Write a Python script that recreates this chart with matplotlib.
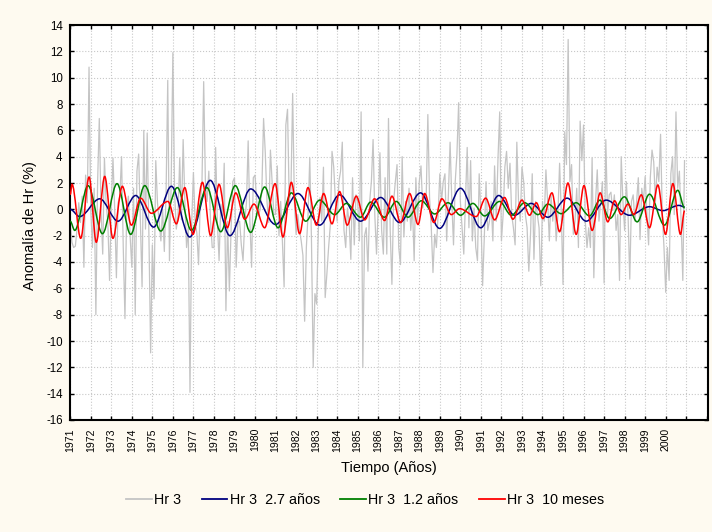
import numpy as np
import matplotlib
matplotlib.use("Agg")
import matplotlib.pyplot as plt
from matplotlib.path import Path
from matplotlib.patches import PathPatch
from matplotlib.lines import Line2D

plt.rcParams['font.family'] = ['Liberation Sans', 'DejaVu Sans']
plt.rcParams['axes.unicode_minus'] = False

# monthly anomaly of Hr, Jan 1971 - Dec 2000
hr3 = [
    -1.0, -2.5, -2.9, -2.8, -1.5, 0.5, -1.0, 1.0, -4.4, 2.6, 0.5, 10.8,      # 1971
    0.0, -2.9, 1.6, -8.0, 2.0, 6.9, 0.0, -3.4, 3.9, 0.5, -1.0, -5.4,         # 1972
    0.5, 3.9, 0.0, -5.2, 0.5, 1.0, 4.0, -2.9, -8.3, 0.0, 1.0, -2.0,          # 1973
    -4.4, 1.6, -8.0, 2.9, 4.2, -1.0, -5.9, 6.0, -1.5, 5.8, -2.0, -10.9,      # 1974
    -2.7, -6.8, 3.7, 0.5, -1.0, -2.4, 0.0, -3.2, 1.0, 9.8, -3.9, 2.0,        # 1975
    11.9, 1.2, -1.5, -0.5, 3.9, -0.8, 5.3, 0.6, -2.9, -1.4, -13.9, -1.0,     # 1976
    2.8, -0.9, -1.8, -4.2, 0.6, 2.0, 9.7, 2.1, 0.6, 2.9, -0.9, -2.9,         # 1977
    -2.9, 4.7, -1.0, -3.9, 0.4, -0.5, 3.5, -7.7, -0.9, -6.2, -1.6, 2.1,      # 1978
    2.4, -4.4, -1.0, -0.9, -2.7, -3.9, -0.9, 0.5, 5.2, -0.9, -4.4, 2.4,      # 1979
    2.6, 0.6, -0.5, 0.0, 1.5, 6.9, 4.3, 0.6, -1.0, 4.5, 2.1, -0.4,           # 1980
    -0.4, 3.3, -2.0, 0.6, -2.4, -5.9, 6.4, 7.6, 0.6, 1.5, 8.8, 0.6,          # 1981
    -1.9, -0.4, -1.6, -2.4, -3.5, -8.5, -2.9, -0.4, 3.9, -2.4, -12.0, -6.4,  # 1982
    -7.2, -1.6, 0.9, -0.9, 3.2, -6.7, -4.9, -2.9, -1.2, 4.4, 3.2, 0.6,       # 1983
    -0.9, 2.1, 2.9, 5.1, -1.6, -2.9, 0.1, -1.0, -3.8, 2.4, -2.7, 1.1,        # 1984
    0.6, -2.4, 7.4, -12.0, -2.0, -1.4, -4.7, 0.6, 2.1, 5.3, -0.4, -3.4,      # 1985
    0.1, 4.3, -1.6, -3.4, 2.4, -3.4, 6.9, -1.6, -5.7, 0.6, 2.1, 3.4,         # 1986
    -2.9, -4.2, 4.0, -2.1, 0.6, -0.9, 1.6, -1.6, 0.3, -3.9, 2.4, -0.9,       # 1987
    2.1, 3.3, 0.1, 1.1, 0.6, 7.2, 0.9, -1.4, -4.8, -1.9, -2.9, -0.4,         # 1988
    2.7, 0.6, 2.1, 2.7, -2.4, 1.1, 5.1, 0.6, -2.7, 2.1, 4.2, 8.1,            # 1989
    0.6, -1.4, -3.4, 0.6, 4.7, -1.4, 3.7, -2.4, 0.1, -2.9, -3.9, 2.7,        # 1990
    -0.4, -5.8, -2.1, 2.1, -1.6, -0.9, 0.6, -2.4, 3.3, -0.9, 3.9, 7.4,       # 1991
    -2.4, -0.4, 3.2, 4.4, 1.6, 3.5, -0.4, -1.4, -2.7, 5.1, 0.6, -0.9,        # 1992
    3.2, 2.1, -0.4, -1.4, -4.7, -1.9, 2.7, -3.8, 0.6, -0.4, -1.4, -5.8,      # 1993
    0.6, -0.9, 3.0, 0.6, -2.4, 1.1, -0.9, 0.6, -2.4, -0.4, 3.5, -0.4,        # 1994
    -5.7, 5.9, 3.4, 12.9, 2.1, 3.4, -1.9, -0.9, 1.6, -2.9, 6.7, 3.7,         # 1995
    6.4, -0.9, -2.9, -1.4, -2.9, 3.9, -5.2, 0.6, 3.0, -0.9, 0.6, 2.1,        # 1996
    -5.6, 5.3, -0.4, 1.1, 1.3, -0.1, 1.1, -1.6, -0.4, -5.4, 4.0, 0.6,        # 1997
    -1.6, 2.1, -0.4, -5.3, 0.6, 1.1, -0.9, 0.6, 2.4, -2.3, 1.6, 0.6,         # 1998
    2.5, -0.4, -2.7, 2.4, 4.5, 3.6, 0.6, 3.2, 2.1, 5.7, -0.4, -2.9,          # 1999
    -6.3, -2.9, -5.4, 2.7, 4.0, -0.4, 7.4, 1.6, 2.9, -0.9, -5.4, 3.7,        # 2000
]

# filtered components: turning points (year, value)
blue_t = [1971.0, 1971.46, 1972.44, 1973.33, 1974.19, 1975.06, 1975.93, 1976.82, 1977.82,
          1978.78, 1979.79, 1981.0, 1982.09, 1983.15, 1984.12, 1985.14, 1986.12, 1987.04,
          1988.06, 1988.99, 1990.01, 1990.99, 1991.87, 1992.64, 1993.45, 1994.26, 1995.2,
          1996.13, 1997.1, 1998.24, 1999.21, 1999.86, 2000.64, 2000.92]
blue_v = [0.0, -0.55, 0.8, -0.9, 1.05, -1.35, 1.75, -2.1, 2.2,
          -2.0, 1.55, -1.15, 1.2, -1.2, 1.1, -0.9, 0.9, -1.0,
          1.25, -1.45, 1.6, -1.4, 1.05, -0.45, 0.45, -0.6, 0.85,
          -0.9, 0.7, -0.45, 0.2, -0.1, 0.3, 0.18]

green_t = [1971.0, 1971.22, 1971.87, 1972.57, 1973.28, 1973.945, 1974.63, 1975.41, 1976.22,
           1976.9, 1977.66, 1978.33, 1979.04, 1979.79, 1980.47, 1981.12, 1981.77, 1982.47,
           1983.15, 1983.88, 1984.45, 1985.14, 1985.63, 1986.3, 1986.88, 1987.45, 1988.1,
           1988.75, 1989.4, 1990.01, 1990.61, 1991.18, 1991.91, 1992.48, 1993.13, 1993.78,
           1994.26, 1994.91, 1995.64, 1996.29, 1996.8, 1997.27, 1997.99, 1998.61, 1999.21,
           1999.94, 2000.59, 2000.92]
green_v = [-0.9, -1.6, 1.8, -1.85, 1.95, -1.9, 1.8, -1.65, 1.65,
           -1.6, 1.65, -1.7, 1.8, -1.75, 1.7, -1.4, 1.25, -0.9,
           0.7, -0.4, 0.45, -0.6, 0.55, -0.6, 0.6, -0.6, 0.65,
           -0.35, 0.5, -0.45, 0.45, -0.5, 0.6, -0.45, 0.5, -0.4,
           0.4, -0.33, 0.5, -0.5, 0.7, -0.7, 0.95, -0.95, 1.15,
           -1.2, 1.45, 0.1]

red_t = [1971.0, 1971.09, 1971.51, 1971.92, 1972.27, 1972.68, 1973.08, 1973.54, 1973.98,
         1974.43, 1974.95, 1975.76, 1976.17, 1976.58, 1976.98, 1977.44, 1977.84, 1978.25,
         1978.65, 1979.06, 1979.5, 1979.95, 1980.47, 1980.98, 1981.36, 1981.77, 1982.17,
         1982.58, 1982.99, 1983.34, 1983.75, 1984.12, 1984.49, 1984.93, 1985.34, 1985.82,
         1986.31, 1986.67, 1987.09, 1987.53, 1987.94, 1988.26, 1988.71, 1989.1, 1989.56,
         1989.96, 1990.77, 1991.23, 1991.67, 1992.15, 1992.56, 1993.0, 1993.37, 1993.7,
         1994.02, 1994.46, 1994.83, 1995.24, 1995.64, 1996.02, 1996.42, 1996.81, 1997.18,
         1997.51, 1997.83, 1998.16, 1998.45, 1998.81, 1999.21, 1999.62, 1999.99, 2000.35,
         2000.72, 2000.92]
red_v = [1.1, 1.9, -2.2, 2.45, -2.5, 2.5, -2.2, 1.75, -1.2,
         0.85, -0.3, 0.6, -1.1, 1.65, -1.9, 2.05, -2.0, 1.9,
         -1.4, 1.25, -0.75, 0.4, -1.4, 1.95, -2.1, 2.05, -1.85,
         1.65, -1.2, 1.2, -1.1, 1.35, -1.2, 1.0, -0.8, 0.8,
         -0.85, 1.0, -1.0, 1.2, -1.15, 1.2, -1.0, 0.8, -0.4,
         0.05, -0.55, 0.85, -0.8, 0.9, -0.75, 0.7, -0.45, 0.5,
         -0.7, 1.25, -1.7, 2.0, -1.9, 1.8, -1.6, 1.25, -0.95,
         0.65, -0.4, 0.4, -0.4, 1.1, -1.4, 1.85, -1.9, 1.95,
         -1.9, -0.1]

labels = ['Hr 3', 'Hr 3  2.7 años', 'Hr 3  1.2 años', 'Hr 3  10 meses']
colors = ['#c4c4c4', '#000080', '#008000', '#ff0000']
years = list(range(1971, 2003))

bg = '#fefaf0'


def smooth_path(tt, vv):
    # cubic bezier through turning points, flat tangent at each point
    verts = [(tt[0], vv[0])]
    codes = [Path.MOVETO]
    for i in range(len(tt) - 1):
        d = (tt[i + 1] - tt[i]) / 3.0
        verts += [(tt[i] + d, vv[i]), (tt[i + 1] - d, vv[i + 1]), (tt[i + 1], vv[i + 1])]
        codes += [Path.CURVE4] * 3
    return Path(verts, codes)


fig = plt.figure(figsize=(7.12, 5.32), dpi=100, facecolor=bg)
ax = fig.add_axes([70 / 712, 1 - 420 / 532, 638 / 712, 395 / 532])
ax.set_facecolor('white')

t = 1971 + np.arange(len(hr3)) / 12.0
ax.plot(t, hr3, color=colors[0], lw=0.9, zorder=2)

for tt, vv, c in [(blue_t, blue_v, colors[1]), (green_t, green_v, colors[2]), (red_t, red_v, colors[3])]:
    ax.add_patch(PathPatch(smooth_path(tt, vv), fill=False, edgecolor=c, lw=1.1, zorder=3))

ax.set_xlim(1970.99, 2002.06)
ax.set_ylim(-16, 14)
ax.set_yticks(np.arange(-16, 15, 2))
ax.set_xticks(years)
ax.set_xticklabels([str(y) if y <= 2000 else '' for y in years], rotation=90, fontsize=7.6)
ax.tick_params(axis='y', labelsize=8.3, pad=5.3)
ax.tick_params(axis='x', pad=5.8)
ax.tick_params(direction='in', length=3, width=1, top=True, right=True)
ax.grid(True, color='#c8c8c8', linestyle=':', linewidth=0.8)
ax.set_axisbelow(True)
for s in ax.spines.values():
    s.set_linewidth(1.5)
    s.set_color('black')

fig.text(389 / 712, 1 - 468 / 532, 'Tiempo (Años)', ha='center', va='center', fontsize=10.5)
fig.text(30 / 712, 1 - 226 / 532, 'Anomalía de Hr (%)', ha='center', va='center',
         rotation=90, fontsize=10.5)

handles = [Line2D([0], [0], color=c, lw=1.3) for c in colors]
fig.legend(handles, labels, loc='center', bbox_to_anchor=(365 / 712, 1 - 500 / 532), ncol=4,
           frameon=False, fontsize=10.3, handlelength=1.8, handletextpad=0.15, columnspacing=1.45)

fig.savefig('out.png', dpi=100, facecolor=bg)
